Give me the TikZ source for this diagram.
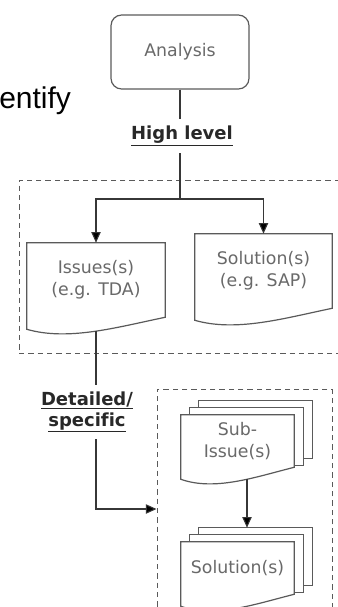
\documentclass[tikz,border=0pt]{standalone}
\usepackage{fontspec}
\usepackage{xcolor}
\usetikzlibrary{arrows.meta,calc,backgrounds}
\newfontfamily\diafont[Ligatures=NoCommon]{DejaVu Sans}
\newfontfamily\slidefont{Liberation Sans}
\definecolor{linegray}{RGB}{55,55,55}
\definecolor{boxgray}{RGB}{90,90,90}
\definecolor{textgray}{RGB}{105,105,105}
\definecolor{labelgray}{RGB}{40,40,40}

\tikzset{
  docbox/.style={draw=none, align=center, text=textgray, font=\diafont\fontsize{13}{16.5}\selectfont},
  docline/.style={draw=boxgray, line width=0.9pt, fill=white},
  dashframe/.style={draw=boxgray, line width=0.7pt, dash pattern=on 4pt off 3pt},
  wire/.style={draw=linegray, line width=0.8pt},
  arr/.style={wire, -{Triangle[length=8pt,width=7pt,fill=black]}},
  lvl/.style={text=labelgray, font=\diafont\bfseries\fontsize{13.5}{15.75}\selectfont, align=center, inner ysep=5pt},
}

% document outline with wavy bottom
\newcommand{\docshape}[1]{%
  \path[docline] (#1.north west) -- (#1.north east) -- (#1.south east)
    .. controls ($(#1.south east)!0.35!(#1.south west)+(0,10)$) and ($(#1.south west)!0.3!(#1.south east)+(0,24)$) .. ($(#1.south west)+(0,12)$) -- cycle;}
% same, with two sheets behind
\newcommand{\docstack}[1]{%
  \path[docline] ($(#1.north west)+(18,-14)$) rectangle ($(#1.south east)+(18,-9)$);
  \path[docline] ($(#1.north west)+(9,-7)$) rectangle ($(#1.south east)+(9,-2)$);
  \docshape{#1}}

\begin{document}
\begin{tikzpicture}[x=0.75pt,y=0.75pt,yscale=-1,xscale=1]
\useasboundingbox (0,0) rectangle (337,607);

% Dashed frames
\node[dashframe, minimum width=244.5pt, minimum height=129.75pt] (highframe) at (182,266.5) {};
\node[dashframe, minimum width=131.25pt, minimum height=173.25pt] (detailframe) at (244.5,504.5) {};

% Text Node
\node[font=\slidefont\fontsize{22.5}{26}\selectfont, anchor=base west, inner sep=0pt] (cue) at (-1,108) {entify};

% Shape: Rounded Rectangle
\node[draw=boxgray, line width=0.9pt, rounded corners=8pt, minimum width=103.5pt, minimum height=55.5pt, text=textgray, font=\diafont\fontsize{13}{16}\selectfont] (analysis) at (180,52) {Analysis};

% Text Node
\node[lvl] (high) at (182,136) {\underline{High level}};
% Text Node
\node[lvl] (detail) at (87,412) {\underline{Detailed/}\\\underline{specific}};

% Documents
\node[docbox, minimum width=103.5pt, minimum height=55.5pt] (issues) at (96,280) {Issues(s)\\(e.g. TDA)};
\node[docbox, minimum width=102.75pt, minimum height=55.5pt] (sapsol) at (263.5,271) {Solution(s)\\(e.g. SAP)};
\node[docbox, minimum width=84.75pt, minimum height=39pt] (subissue) at (237.5,441) {Sub-\\Issue(s)};
\node[docbox, minimum width=84.75pt, minimum height=39pt] (subsol) at (237.5,568) {Solution(s)};

\begin{scope}[on background layer]
\docshape{issues}
\docshape{sapsol}
\docstack{subissue}
\docstack{subsol}
\end{scope}

% Connectors
\coordinate (split) at (180,199);
\coordinate (turn) at (96,509);
\draw[wire] (analysis.south) -- (analysis.south |- high.north);
\draw[wire] (analysis.south |- high.south) -- (split);
\draw[arr] (split) -| (issues.north);
\draw[arr] (split) -| (sapsol.north);
\draw[wire] ($(issues.south)+(0,14)$) -- (issues.south |- detail.north);
\draw[arr] (issues.south |- detail.south) -- (turn) -- (turn -| detailframe.west);
\draw[arr] ($(subissue.south)+(9.5,12)$) -- ($(subsol.north)+(9.5,-14)$);

\end{tikzpicture}
\end{document}
